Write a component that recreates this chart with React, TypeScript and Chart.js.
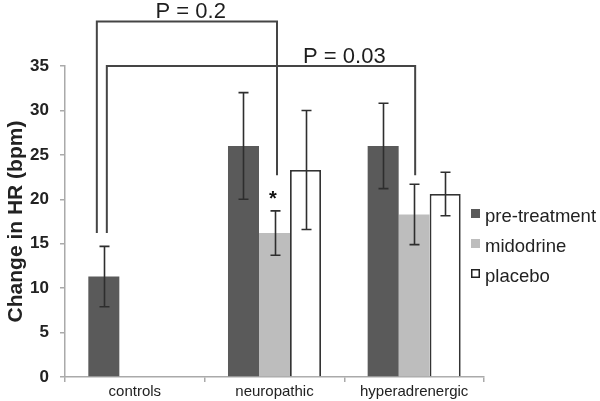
import React, { useEffect, useRef } from "react";
import { Chart, registerables } from "chart.js";

Chart.register(...registerables);

const categories = ["controls", "neuropathic", "hyperadrenergic"];
const seriesNames = ["pre-treatment", "midodrine", "placebo"];
const preTreatment = [11.3, 26.0, 26.0];
const midodrine = [null, 16.2, 18.3];
const placebo = [null, 23.3, 20.6];
const preTreatmentErr = [3.4, 6.0, 4.8];
const midodrineErr = [null, 2.5, 3.4];
const placeboErr = [null, 6.7, 2.45];
const yTicks = [0, 5, 10, 15, 20, 25, 30, 35];

const bracketLabels = ["P = 0.2", "P = 0.03"];
const bracketFrom = [[0, 0], [0, 0]]; // [dataset, category]
const bracketTo = [[1, 1], [1, 2]];
const bracketTopValue = [40, 35];
const bracketLeftEnd = [16.2, 16.2];
const bracketRightEnd = [22.7, 22.7];
const bracketLabelAt = [0.4, 1.5];
const starMark = { dataset: 1, category: 1, value: 20.6, text: "*" };

const FONT = "'Liberation Sans', Arial, Helvetica, sans-serif";
const colors = ["#5a5a5a", "#bdbdbd", "#ffffff"];
const borders = ["#5a5a5a", "#bdbdbd", "#333333"];
const borderWidths = [0, 0, 1.8];
const legOffsetLeft = [-7, 3];
const legOffsetRight = [2.5, 1];

export default function App() {
  const ref = useRef<HTMLCanvasElement | null>(null);
  useEffect(() => {
    if (!ref.current) return;
    const errs = [preTreatmentErr, midodrineErr, placeboErr];

    const overlay = {
      id: "overlay",
      afterDatasetsDraw(chart: any) {
        const ctx = chart.ctx;
        const ys = chart.scales.y;
        ctx.save();
        ctx.strokeStyle = "#2e2e2e";
        ctx.lineWidth = 1.6;
        chart.data.datasets.forEach((ds: any, di: number) => {
          const meta = chart.getDatasetMeta(di);
          meta.data.forEach((bar: any, i: number) => {
            const v = ds.data[i];
            const e = errs[di][i];
            if (v == null || e == null) return;
            const x = Math.round(bar.x) + 0.5;
            const yt = ys.getPixelForValue(v + e);
            const yb = ys.getPixelForValue(v - e);
            ctx.beginPath();
            ctx.moveTo(x, yt);
            ctx.lineTo(x, yb);
            ctx.moveTo(x - 5, yt);
            ctx.lineTo(x + 5, yt);
            ctx.moveTo(x - 5, yb);
            ctx.lineTo(x + 5, yb);
            ctx.stroke();
          });
        });
        ctx.restore();
      },
      afterDraw(chart: any) {
        const ctx = chart.ctx;
        const ys = chart.scales.y;
        const xs = chart.scales.x;
        ctx.save();
        // brackets
        ctx.strokeStyle = "#454545";
        ctx.lineWidth = 2;
        bracketLabels.forEach((label, k) => {
          const a = chart.getDatasetMeta(bracketFrom[k][0]).data[bracketFrom[k][1]];
          const b = chart.getDatasetMeta(bracketTo[k][0]).data[bracketTo[k][1]];
          const x1 = a.x + legOffsetLeft[k];
          const x2 = b.x + legOffsetRight[k];
          const yTop = ys.getPixelForValue(bracketTopValue[k]);
          ctx.beginPath();
          ctx.moveTo(x1, ys.getPixelForValue(bracketLeftEnd[k]));
          ctx.lineTo(x1, yTop);
          ctx.lineTo(x2, yTop);
          ctx.lineTo(x2, ys.getPixelForValue(bracketRightEnd[k]));
          ctx.stroke();
          ctx.fillStyle = "#1e1e1e";
          ctx.font = `22px ${FONT}`;
          ctx.textAlign = "center";
          ctx.textBaseline = "alphabetic";
          ctx.fillText(label, xs.getPixelForValue(bracketLabelAt[k]), yTop - 3.5);
        });
        // star
        const sb = chart.getDatasetMeta(starMark.dataset).data[starMark.category];
        ctx.fillStyle = "#111";
        ctx.font = `bold 20px ${FONT}`;
        ctx.textAlign = "center";
        ctx.textBaseline = "middle";
        ctx.fillText(starMark.text, sb.x - 1.5, ys.getPixelForValue(starMark.value) + 6);
        // legend
        const lx = chart.chartArea.right - 13;
        const baseY = [222, 252, 282];
        ctx.font = `18.5px ${FONT}`;
        ctx.textAlign = "left";
        ctx.textBaseline = "alphabetic";
        chart.data.datasets.forEach((ds: any, di: number) => {
          const by = baseY[di];
          ctx.fillStyle = ds.backgroundColor;
          ctx.fillRect(lx, by - 13, 9, 9);
          if (ds.borderWidth > 0) {
            ctx.strokeStyle = "#222";
            ctx.lineWidth = 1.5;
            ctx.strokeRect(lx + 0.75, by - 12.25, 7.5, 7.5);
          }
          ctx.fillStyle = "#222";
          ctx.fillText(ds.label, lx + 14, by);
        });
        ctx.restore();
      },
    };

    const chart = new Chart(ref.current, {
      type: "bar",
      data: {
        labels: categories,
        datasets: [preTreatment, midodrine, placebo].map((d, i) => ({
          label: seriesNames[i],
          data: d as any,
          backgroundColor: colors[i],
          borderColor: borders[i],
          borderWidth: borderWidths[i],
          barPercentage: 1,
          categoryPercentage: 0.666,
        })),
      },
      options: {
        responsive: false,
        animation: false,
        layout: { padding: { top: 66, right: 116, left: 0, bottom: 0 } },
        plugins: { legend: { display: false }, tooltip: { enabled: false } },
        scales: {
          x: {
            afterFit: (s: any) => {
              s.height = 24;
            },
            grid: {
              display: true,
              offset: true,
              drawOnChartArea: false,
              drawTicks: true,
              tickLength: 5,
              color: "#aaaaaa",
              lineWidth: 1.5,
            },
            border: { display: true, color: "#aaaaaa", width: 1.5 },
            ticks: { color: "#222", font: { family: FONT, size: 15 }, padding: 1 },
          },
          y: {
            min: 0,
            max: 35,
            afterFit: (s: any) => {
              s.width = 65;
            },
            afterBuildTicks: (s: any) => {
              s.ticks = yTicks.map((v) => ({ value: v }));
            },
            grid: {
              display: true,
              drawOnChartArea: false,
              drawTicks: true,
              tickLength: 5,
              color: "#aaaaaa",
              lineWidth: 1.5,
            },
            border: { display: true, color: "#aaaaaa", width: 1.5 },
            ticks: {
              color: "#222",
              font: { family: FONT, size: 17, weight: "bold" },
              padding: 11,
            },
            title: {
              display: true,
              text: "Change in HR (bpm)",
              color: "#222",
              font: { family: FONT, size: 21, weight: "bold" },
              padding: { top: 4, bottom: 0 },
            },
          },
        },
      },
      plugins: [overlay],
    });
    return () => chart.destroy();
  }, []);

  return (
    <div style={{ position: "fixed", left: 0, top: 0, width: 600, height: 401, background: "#fff" }}>
      <canvas ref={ref} width={600} height={401} />
    </div>
  );
}
